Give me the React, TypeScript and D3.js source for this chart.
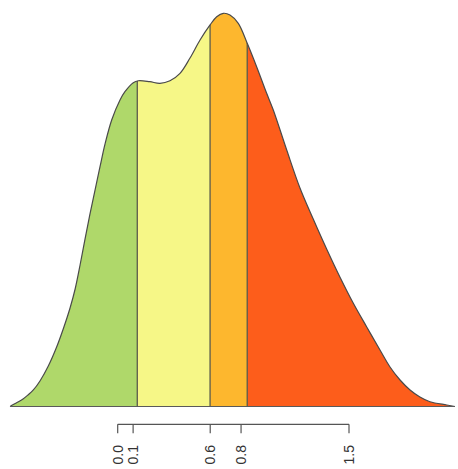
import React from "react";
import * as d3 from "d3";

// Density curve (x value, density)
const xValues = [-0.698, -0.677, -0.647, -0.614, -0.582, -0.547, -0.504, -0.45, -0.396, -0.351, -0.309, -0.276, -0.244, -0.212, -0.18, -0.147, -0.115, -0.082, -0.039, 0.015, 0.047, 0.101, 0.134, 0.209, 0.274, 0.339, 0.404, 0.469, 0.534, 0.599, 0.642, 0.685, 0.728, 0.782, 0.84, 0.901, 0.966, 1.009, 1.096, 1.182, 1.268, 1.355, 1.441, 1.528, 1.615, 1.701, 1.766, 1.831, 1.896, 1.96, 2.025, 2.134, 2.187];
const densities = [0, 0.003, 0.0069, 0.0114, 0.0175, 0.0252, 0.0389, 0.0617, 0.0907, 0.1197, 0.1502, 0.1791, 0.2157, 0.2553, 0.2934, 0.33, 0.3651, 0.4002, 0.4367, 0.4672, 0.4799, 0.4936, 0.4966, 0.4951, 0.4927, 0.4966, 0.5079, 0.5313, 0.5587, 0.5816, 0.5942, 0.5994, 0.5968, 0.5841, 0.5537, 0.518, 0.4774, 0.452, 0.391, 0.3331, 0.2858, 0.2401, 0.1974, 0.1573, 0.1212, 0.0861, 0.0602, 0.0404, 0.0252, 0.0145, 0.0073, 0.0023, 0];

// Region boundaries and colours
const breaks = [0.127, 0.599, 0.84];
const regionColors = ["#AFD86A", "#F6F787", "#FDB72E", "#FD5D1B"];

// Axis ticks
const tickValues = [0.0, 0.1, 0.6, 0.8, 1.5];
const tickLabels = ["0.0", "0.1", "0.6", "0.8", "1.5"];

export default function App() {
  const W = 458;
  const H = 469;
  const x = d3.scaleLinear().domain([0, 1.5]).range([117.7, 349]);
  const y = d3.scaleLinear().domain([0, 0.6]).range([406.5, 12.9]);

  const pts = xValues.map((v, i) => [v, densities[i]] as [number, number]);
  const curve = d3.curveCatmullRom.alpha(0.5);
  const area = d3
    .area<[number, number]>()
    .x((d) => x(d[0]))
    .y0(y(0))
    .y1((d) => y(d[1]))
    .curve(curve);
  const line = d3
    .line<[number, number]>()
    .x((d) => x(d[0]))
    .y((d) => y(d[1]))
    .curve(curve);
  const areaPath = area(pts) || "";
  const linePath = line(pts) || "";

  const xMin = xValues[0];
  const xMax = xValues[xValues.length - 1];
  const edges = [xMin, ...breaks, xMax];

  const axisY = 424.3;
  const tickLen = 9;

  return (
    <svg
      width={W}
      height={H}
      style={{ position: "absolute", left: 0, top: 0, background: "#fff" }}
      fontFamily="'Liberation Sans', Arial, sans-serif"
    >
      <defs>
        <clipPath id="densClip">
          <path d={areaPath} />
        </clipPath>
        {regionColors.map((_, i) => (
          <clipPath id={`reg${i}`} key={i}>
            <rect x={x(edges[i])} y={0} width={x(edges[i + 1]) - x(edges[i])} height={H} />
          </clipPath>
        ))}
      </defs>
      {regionColors.map((c, i) => (
        <g clipPath={`url(#reg${i})`} key={i}>
          <path d={areaPath} fill={c} />
        </g>
      ))}
      <g clipPath="url(#densClip)">
        {breaks.map((b, i) => (
          <line key={i} x1={x(b)} x2={x(b)} y1={0} y2={y(0)} stroke="#5a5a4a" strokeWidth={1.3} />
        ))}
      </g>
      <path d={linePath} fill="none" stroke="#4a4a4a" strokeWidth={1.2} />
      <line x1={x(xMin)} x2={x(xMax)} y1={y(0)} y2={y(0)} stroke="#5a5a5a" strokeWidth={1.2} />
      {/* axis */}
      <line
        x1={x(tickValues[0])}
        x2={x(tickValues[tickValues.length - 1])}
        y1={axisY}
        y2={axisY}
        stroke="#555"
        strokeWidth={1.2}
      />
      {tickValues.map((t, i) => (
        <g key={i}>
          <line x1={x(t)} x2={x(t)} y1={axisY} y2={axisY + tickLen} stroke="#555" strokeWidth={1.2} />
          <text
            transform={`translate(${x(t)},${445}) rotate(-90)`}
            textAnchor="end"
            dy="0.36em"
            fontSize={14}
            fill="#333"
          >
            {tickLabels[i]}
          </text>
        </g>
      ))}
    </svg>
  );
}
